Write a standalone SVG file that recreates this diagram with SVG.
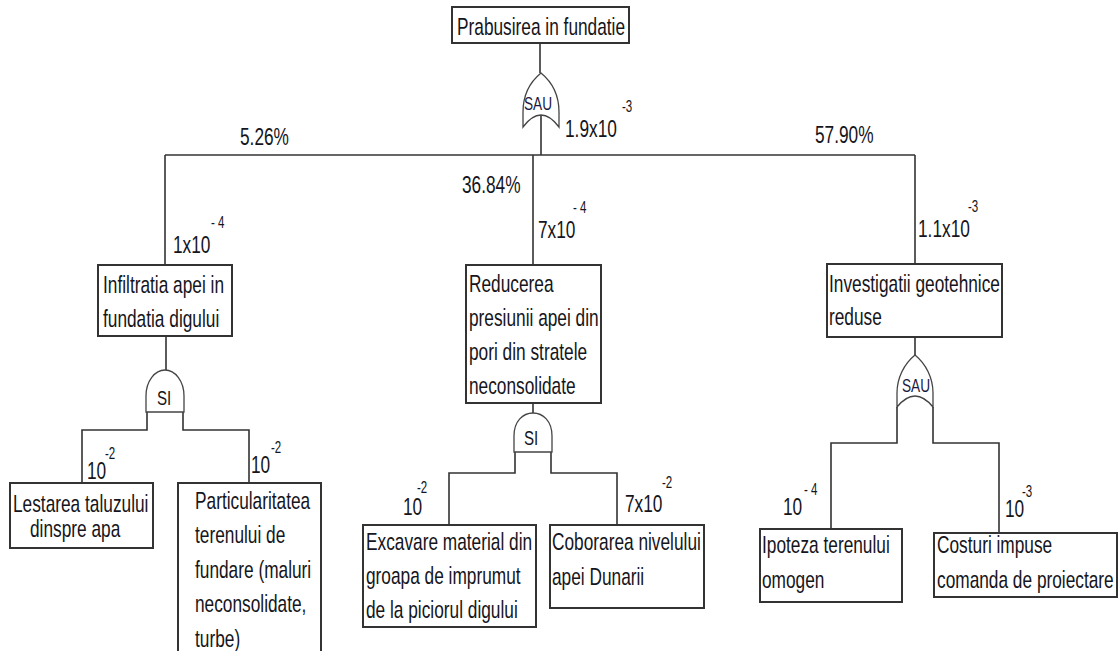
<svg xmlns="http://www.w3.org/2000/svg" width="1118" height="651" viewBox="0 0 1118 651">
<style>
.bg{fill:#fff}
.box{fill:#fff;stroke:#333;stroke-width:2}
.ln{fill:none;stroke:#333;stroke-width:1.6}
.gate{fill:#fff;stroke:#444;stroke-width:1.3}
.t{font-family:"Liberation Sans",Arial,sans-serif;font-size:24px;fill:#151520}
.sup{font-family:"Liberation Sans",Arial,sans-serif;font-size:16px;fill:#151520}
.g1{font-family:"Liberation Sans",Arial,sans-serif;font-size:19px;fill:#1a1a40}
.g2{font-family:"Liberation Sans",Arial,sans-serif;font-size:21px;fill:#151520}
</style>
<rect class="bg" x="0" y="0" width="1118" height="651"/>

<g id="connectors">
  <path class="ln" d="M540,43 V73"/>
  <path class="ln" d="M541,115 V155"/>
  <path class="ln" d="M165,155 H915"/>
  <path class="ln" d="M165,155 V265"/>
  <path class="ln" d="M533,155 V265"/>
  <path class="ln" d="M915,155 V264"/>
  <path class="ln" d="M166,336 V370"/>
  <path class="ln" d="M147,412 V430 H82 V483"/>
  <path class="ln" d="M183,412 V430 H249 V483"/>
  <path class="ln" d="M533,403 V413"/>
  <path class="ln" d="M515,452 V473 H449 V525"/>
  <path class="ln" d="M551,452 V473 H617 V525"/>
  <path class="ln" d="M915,337 V355"/>
  <path class="ln" d="M897,407 V443 H831 V529"/>
  <path class="ln" d="M933,407 V443 H999 V533"/>
</g>

<g id="labels">
  <text class="t" transform="translate(565,137) scale(.72,1)">1.9x10</text>
  <text class="sup" transform="translate(622,112) scale(.72,1)">-3</text>
  <text class="t" transform="translate(240,145) scale(.72,1)">5.26%</text>
  <text class="t" transform="translate(462,193) scale(.72,1)">36.84%</text>
  <text class="t" transform="translate(815,143) scale(.72,1)">57.90%</text>
  <text class="t" transform="translate(173,253) scale(.72,1)">1x10</text>
  <text class="sup" transform="translate(211,228) scale(.72,1)">- 4</text>
  <text class="t" transform="translate(538,238) scale(.72,1)">7x10</text>
  <text class="sup" transform="translate(573,213) scale(.72,1)">- 4</text>
  <text class="t" transform="translate(918,237) scale(.72,1)">1.1x10</text>
  <text class="sup" transform="translate(968,212) scale(.72,1)">-3</text>
  <text class="t" transform="translate(87,479) scale(.72,1)">10</text>
  <text class="sup" transform="translate(105,459) scale(.72,1)">-2</text>
  <text class="t" transform="translate(251,473) scale(.72,1)">10</text>
  <text class="sup" transform="translate(271,453) scale(.72,1)">-2</text>
  <text class="t" transform="translate(403,515) scale(.72,1)">10</text>
  <text class="sup" transform="translate(417,493) scale(.72,1)">-2</text>
  <text class="t" transform="translate(625,512) scale(.72,1)">7x10</text>
  <text class="sup" transform="translate(662,488) scale(.72,1)">-2</text>
  <text class="t" transform="translate(783,515) scale(.72,1)">10</text>
  <text class="sup" transform="translate(804,495) scale(.72,1)">- 4</text>
  <text class="t" transform="translate(1005,517) scale(.72,1)">10</text>
  <text class="sup" transform="translate(1022,497) scale(.72,1)">-3</text>
</g>

<g id="n-top">
  <rect class="box" x="452" y="7" width="177" height="36"/>
  <text class="t" transform="translate(457,35) scale(.72,1)">Prabusirea in fundatie</text>
</g>

<g id="gate-top">
  <path class="gate" d="M541,73 C530,82 523,96 523,112 L523,127 Q541,103 559,127 L559,112 C559,96 552,82 541,73 Z"/>
  <text class="g1" transform="translate(524,110) scale(.72,1)">SAU</text>
</g>

<g id="n-infiltratia">
  <rect class="box" x="98" y="265" width="134" height="71"/>
  <text class="t" transform="translate(103,293) scale(.72,1)"><tspan x="0" y="0">Infiltratia apei in</tspan><tspan x="0" y="34">fundatia digului</tspan></text>
</g>

<g id="gate-left">
  <path class="gate" d="M146,412 V396 C146,381 155,370 165,370 C175,370 184,381 184,396 V412 Z"/>
  <text class="g2" transform="translate(157,405) scale(.72,1)">SI</text>
</g>

<g id="n-reducerea">
  <rect class="box" x="466" y="265" width="135" height="138"/>
  <text class="t" transform="translate(469,292) scale(.72,1)"><tspan x="0" y="0">Reducerea</tspan><tspan x="0" y="34">presiunii apei din</tspan><tspan x="0" y="68">pori din stratele</tspan><tspan x="0" y="102">neconsolidate</tspan></text>
</g>

<g id="gate-mid">
  <path class="gate" d="M514,452 V436 C514,421 523,413 533,413 C543,413 552,421 552,436 V452 Z"/>
  <text class="g2" transform="translate(524,445) scale(.72,1)">SI</text>
</g>

<g id="n-investigatii">
  <rect class="box" x="827" y="264" width="175" height="73"/>
  <text class="t" transform="translate(829,292) scale(.72,1)"><tspan x="0" y="0">Investigatii geotehnice</tspan><tspan x="0" y="33">reduse</tspan></text>
</g>

<g id="gate-right">
  <path class="gate" d="M915,355 C904,364 897,378 897,393 L897,407 Q915,385 933,407 L933,393 C933,378 926,364 915,355 Z"/>
  <text class="g1" transform="translate(902,392) scale(.72,1)">SAU</text>
</g>

<g id="n-lestarea">
  <rect class="box" x="10" y="483" width="143" height="65"/>
  <text class="t" transform="translate(13,512) scale(.72,1)">Lestarea taluzului</text>
  <text class="t" transform="translate(30,537) scale(.72,1)">dinspre apa</text>
</g>

<g id="n-particularitatea">
  <rect class="box" x="178" y="483" width="143" height="180"/>
  <text class="t" transform="translate(195,509) scale(.72,1)"><tspan x="0" y="0">Particularitatea</tspan><tspan x="0" y="34.5">terenului de</tspan><tspan x="0" y="69">fundare (maluri</tspan><tspan x="0" y="103.5">neconsolidate,</tspan><tspan x="0" y="138">turbe)</tspan></text>
</g>

<g id="n-excavare">
  <rect class="box" x="363" y="525" width="173" height="102"/>
  <text class="t" transform="translate(366,550) scale(.72,1)"><tspan x="0" y="0">Excavare material din</tspan><tspan x="0" y="34">groapa de imprumut</tspan><tspan x="0" y="68">de la piciorul digului</tspan></text>
</g>

<g id="n-coborarea">
  <rect class="box" x="550" y="525" width="154" height="83"/>
  <text class="t" transform="translate(552,550) scale(.72,1)"><tspan x="0" y="0">Coborarea nivelului</tspan><tspan x="0" y="35">apei Dunarii</tspan></text>
</g>

<g id="n-ipoteza">
  <rect class="box" x="760" y="529" width="142" height="73"/>
  <text class="t" transform="translate(762,553) scale(.72,1)"><tspan x="0" y="0">Ipoteza terenului</tspan><tspan x="0" y="35">omogen</tspan></text>
</g>

<g id="n-costuri">
  <rect class="box" x="934" y="533" width="183" height="64"/>
  <text class="t" transform="translate(937,553) scale(.72,1)"><tspan x="0" y="0">Costuri impuse</tspan><tspan x="0" y="35">comanda de proiectare</tspan></text>
</g>
</svg>
